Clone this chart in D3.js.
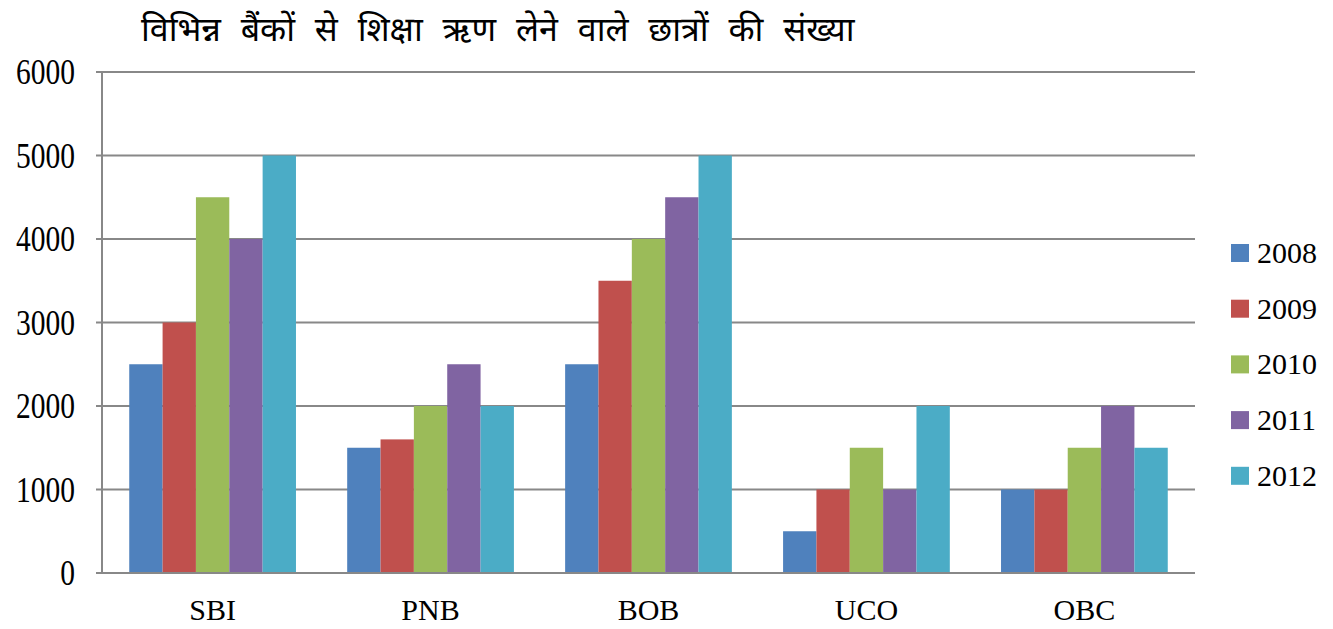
<!DOCTYPE html>
<html>
<head>
<meta charset="utf-8">
<script src="https://cdn.jsdelivr.net/npm/d3@7"></script>
<style>
body { margin: 0; background: #fff; }
</style>
</head>
<body>
<div id="chart"></div>
<script>
var banks = ["SBI", "PNB", "BOB", "UCO", "OBC"];
var years = ["2008", "2009", "2010", "2011", "2012"];
var colors = ["#4F81BD", "#C0504D", "#9BBB59", "#8064A2", "#4BACC6"];
var s2008 = [2500, 1500, 2500, 500, 1000];
var s2009 = [3000, 1600, 3500, 1000, 1000];
var s2010 = [4500, 2000, 4000, 1500, 1500];
var s2011 = [4000, 2500, 4500, 1000, 2000];
var s2012 = [5000, 2000, 5000, 2000, 1500];
var yTicks = [0, 1000, 2000, 3000, 4000, 5000, 6000];
var title = "विभिन्न बैंकों से शिक्षा ऋण लेने वाले छात्रों की संख्या";

drawChart("chart");

function drawChart(container){
	var series = [s2008, s2009, s2010, s2011, s2012];
	var W = 1333, H = 629;
	var margin = { top: 72, left: 102, right: 138, bottom: 56 };
	var width = W - margin.left - margin.right,
		height = H - margin.top - margin.bottom;

	var svg = d3.select("#"+container).append("svg")
		.attr("width", W)
		.attr("height", H);

	svg.append("text")
		.attr("x", 141)
		.attr("y", 41)
		.style("font-family", "'Noto Sans Devanagari', 'Noto Sans', sans-serif")
		.style("font-size", "34px")
		.style("word-spacing", "11px")
		.style("fill", "#000")
		.text(title);

	var g = svg.append("g").attr("transform", "translate(" + margin.left + "," + margin.top + ")");

	var x0 = d3.scaleBand().domain(banks).range([0, width]).paddingInner(0.235).paddingOuter(0.125);
	var x1 = d3.scaleBand().domain(years).range([0, x0.bandwidth()]);
	var y = d3.scaleLinear().domain([0, 6000]).range([height, 0]);

	// grid lines
	g.selectAll(".grid")
		.data(yTicks)
		.enter().append("line")
		.attr("class", "grid")
		.attr("x1", -6)
		.attr("x2", width)
		.attr("y1", function(d){ return y(d); })
		.attr("y2", function(d){ return y(d); })
		.style("stroke", "#888")
		.style("stroke-width", 2);

	// y axis line
	g.append("line")
		.attr("x1", 0).attr("x2", 0)
		.attr("y1", 0).attr("y2", height)
		.style("stroke", "#888")
		.style("stroke-width", 2);

	// y labels
	g.selectAll(".ylab")
		.data(yTicks)
		.enter().append("text")
		.attr("class", "ylab")
		.attr("transform", function(d){ return "translate(-27," + (y(d) + 12) + ") scale(0.82,1)"; })
		.style("text-anchor", "end")
		.style("font-family", "'Liberation Serif', serif")
		.style("font-size", "36px")
		.text(function(d){ return d; });

	// bars
	years.forEach(function(yr, k){
		g.selectAll(".bar" + yr)
			.data(series[k])
			.enter().append("rect")
			.attr("x", function(d, i){ return x0(banks[i]) + x1(yr); })
			.attr("y", function(d){ return y(d); })
			.attr("width", x1.bandwidth())
			.attr("height", function(d){ return height - y(d); })
			.style("fill", colors[k]);
	});

	// bottom axis line
	g.append("line")
		.attr("x1", 0).attr("x2", width)
		.attr("y1", height).attr("y2", height)
		.style("stroke", "#888")
		.style("stroke-width", 2);

	// x labels
	g.selectAll(".xlab")
		.data(banks)
		.enter().append("text")
		.attr("x", function(d){ return x0(d) + x0.bandwidth()/2; })
		.attr("y", height + 47)
		.style("text-anchor", "middle")
		.style("font-family", "'Liberation Serif', serif")
		.style("font-size", "30px")
		.text(function(d){ return d; });

	// legend
	var leg = svg.append("g").attr("transform", "translate(1231,244)");
	var item = leg.selectAll(".leg")
		.data(years)
		.enter().append("g")
		.attr("transform", function(d, i){ return "translate(0," + (i*55.7) + ")"; });
	item.append("rect")
		.attr("width", 18).attr("height", 18)
		.style("fill", function(d, i){ return colors[i]; });
	item.append("text")
		.attr("x", 26)
		.attr("y", 19)
		.style("font-family", "'Liberation Serif', serif")
		.style("font-size", "30px")
		.text(function(d){ return d; });
}
</script>
</body>
</html>
